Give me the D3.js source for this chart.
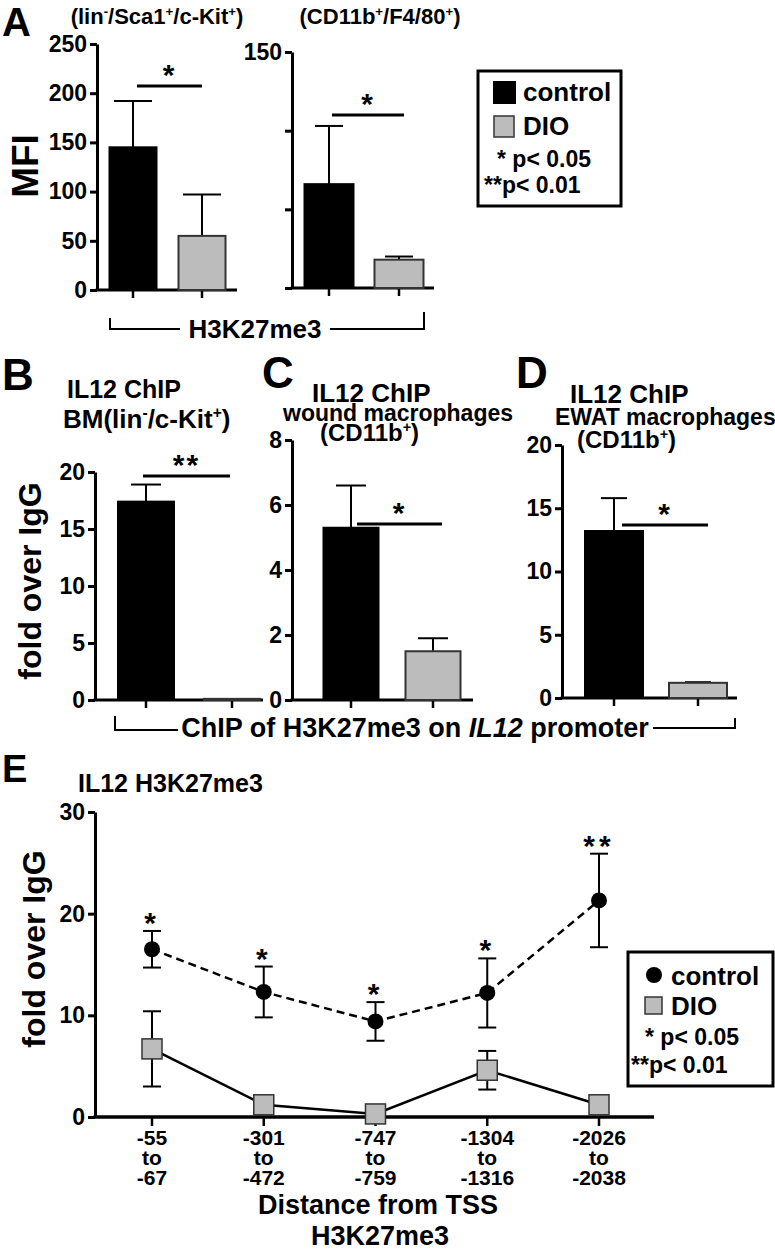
<!DOCTYPE html>
<html>
<head>
<meta charset="utf-8">
<script src="https://cdn.jsdelivr.net/npm/d3@7"></script>
<style>
  html, body { margin: 0; padding: 0; background: #fff; }
  svg { display: block; }
</style>
</head>
<body>
<div id="chart"></div>
<script>
// ---- data ----
const groups = ['control', 'DIO'];

// A: H3K27me3 MFI
const aStemMean = [145, 55];
const aStemSem = [47, 42];
const aStemTicks = [0, 50, 100, 150, 200, 250];
const aMacMean = [66, 18];
const aMacSem = [37, 2];
const aMacTicks = [0, 50, 100, 150];
const aMacLabels = [150];

// B-D: IL12 ChIP fold over IgG
const bMean = [17.4, 0.1];
const bSem = [1.5, 0];
const bTicks = [0, 5, 10, 15, 20];
const cMean = [5.3, 1.5];
const cSem = [1.3, 0.4];
const cTicks = [0, 2, 4, 6, 8];
const dMean = [13.2, 1.2];
const dSem = [2.6, 0.05];
const dTicks = [0, 5, 10, 15, 20];

// E: distance from TSS
const tssRegions = [
  ['-55', 'to', '-67'],
  ['-301', 'to', '-472'],
  ['-747', 'to', '-759'],
  ['-1304', 'to', '-1316'],
  ['-2026', 'to', '-2038']
];
const eControl = [16.5, 12.3, 9.4, 12.2, 21.3];
const eControlSem = [1.8, 2.5, 1.9, 3.4, 4.6];
const eDio = [6.7, 1.2, 0.3, 4.6, 1.2];
const eDioSem = [3.7, 0, 0, 1.9, 0];
const eStars = ['*', '*', '*', '*', '**'];
const eTicks = [0, 10, 20, 30];

const FONT = '"Liberation Sans", Arial, Helvetica, sans-serif';
const GRAY = '#bcbcbc';

const svg = d3.select('#chart').append('svg')
  .attr('width', 775)
  .attr('height', 1251)
  .attr('font-family', FONT)
  .attr('font-weight', 'bold');

svg.append('rect').attr('width', 775).attr('height', 1251).attr('fill', '#fff');

// text with superscript / italic parts: parts = [[text, 'sup'|'it'|'']]
function rich(x, y, parts, size, anchor) {
  const t = svg.append('text')
    .attr('x', x).attr('y', y)
    .attr('font-size', size)
    .attr('text-anchor', anchor || 'start');
  let shifted = 0;
  parts.forEach(([s, kind]) => {
    const ts = t.append('tspan').text(s);
    if (kind === 'sup') {
      ts.attr('font-size', size * 0.6).attr('dy', -size * 0.38 - shifted);
      shifted = -size * 0.38;
    } else {
      if (shifted) ts.attr('dy', -shifted);
      shifted = 0;
      if (kind === 'it') ts.attr('font-style', 'italic');
    }
  });
  return t;
}

function label(x, y, s, size, anchor) {
  return svg.append('text')
    .attr('x', x).attr('y', y)
    .attr('font-size', size)
    .attr('text-anchor', anchor || 'start')
    .text(s);
}

function styleAxis(g, size) {
  g.attr('font-family', FONT).attr('font-size', size).attr('font-weight', 'bold');
  g.select('.domain').attr('stroke', '#000').attr('stroke-width', 3);
  g.selectAll('.tick line').attr('stroke', '#000').attr('stroke-width', 3);
  g.selectAll('.tick text').attr('fill', '#000');
}

function barPanel(p) {
  const y = d3.scaleLinear().domain([0, p.ticks[p.ticks.length - 1]]).range([p.y0, p.y1]);
  const x = d3.scalePoint().domain(groups).range([p.cx0, p.cx1]);
  const labels = p.labels || p.ticks;

  const ya = svg.append('g')
    .attr('transform', `translate(${p.ax},0)`)
    .call(d3.axisLeft(y).tickValues(p.ticks).tickSize(7).tickSizeOuter(0).tickPadding(3)
      .tickFormat(d => labels.includes(d) ? d : ''));
  styleAxis(ya, 23);

  // x axis line + ticks
  svg.append('line')
    .attr('x1', p.ax - 1.5).attr('x2', p.axEnd)
    .attr('y1', y(0)).attr('y2', y(0))
    .attr('stroke', '#000').attr('stroke-width', 3);
  svg.append('g').selectAll('line').data(groups).join('line')
    .attr('x1', d => x(d)).attr('x2', d => x(d))
    .attr('y1', y(0)).attr('y2', y(0) + 8)
    .attr('stroke', '#000').attr('stroke-width', 2.5);

  const rows = groups.map((gname, i) => ({ g: gname, m: p.mean[i], s: p.sem[i] }));

  // error bars (upper only)
  const err = svg.append('g').attr('stroke', '#000').attr('stroke-width', 2);
  err.selectAll('line.v').data(rows.filter(r => r.s > 0)).join('line')
    .attr('x1', d => x(d.g)).attr('x2', d => x(d.g))
    .attr('y1', d => y(d.m)).attr('y2', d => y(d.m + d.s));
  err.selectAll('line.c').data(rows.filter(r => r.s > 0)).join('line')
    .attr('x1', d => x(d.g) - p.cap / 2).attr('x2', d => x(d.g) + p.cap / 2)
    .attr('y1', d => y(d.m + d.s)).attr('y2', d => y(d.m + d.s));

  svg.append('g').selectAll('rect').data(rows).join('rect')
    .attr('x', d => x(d.g) - p.bw / 2)
    .attr('y', d => y(d.m))
    .attr('width', p.bw)
    .attr('height', d => y(0) - y(d.m))
    .attr('fill', d => d.g === 'control' ? '#000' : GRAY)
    .attr('stroke', d => d.g === 'control' ? '#000' : '#333')
    .attr('stroke-width', 2);

  // significance bar
  svg.append('line')
    .attr('x1', p.sig[0]).attr('x2', p.sig[1])
    .attr('y1', p.sig[2]).attr('y2', p.sig[2])
    .attr('stroke', '#000').attr('stroke-width', 3);
  label((p.sig[0] + p.sig[1]) / 2, p.sig[2] - 1, p.star, 30, 'middle').attr('letter-spacing', 2);
}

// ---------- Panel A ----------
label(2, 36, 'A', 40);
rich(157, 24, [['(lin', ''], ['-', 'sup'], ['/Sca1', ''], ['+', 'sup'], ['/c-Kit', ''], ['+', 'sup'], [')', '']], 22, 'middle');
rich(380, 24, [['(CD11b', ''], ['+', 'sup'], ['/F4/80', ''], ['+', 'sup'], [')', '']], 22, 'middle');

barPanel({ mean: aStemMean, sem: aStemSem, ticks: aStemTicks, y0: 290, y1: 44,
  ax: 97, axEnd: 237, cx0: 133, cx1: 202, bw: 47, cap: 38, sig: [137, 202, 86], star: '*' });
barPanel({ mean: aMacMean, sem: aMacSem, ticks: aMacTicks, labels: aMacLabels, y0: 288, y1: 52,
  ax: 292, axEnd: 434, cx0: 329, cx1: 399, bw: 49, cap: 28, sig: [332, 404, 115], star: '*' });

svg.append('text')
  .attr('transform', 'translate(38,166) rotate(-90)')
  .attr('text-anchor', 'middle').attr('font-size', 37).text('MFI');

// bracket H3K27me3
svg.append('path')
  .attr('d', 'M110,318 V329 H180 M330,329 H424 V312')
  .attr('fill', 'none').attr('stroke', '#000').attr('stroke-width', 2);
label(255, 338, 'H3K27me3', 26, 'middle');

// legend A
svg.append('rect').attr('x', 478).attr('y', 71).attr('width', 143).attr('height', 135)
  .attr('fill', '#fff').attr('stroke', '#000').attr('stroke-width', 3);
svg.append('rect').attr('x', 493).attr('y', 81).attr('width', 23).attr('height', 23).attr('fill', '#000');
svg.append('rect').attr('x', 494).attr('y', 116).attr('width', 20).attr('height', 21)
  .attr('fill', GRAY).attr('stroke', '#333').attr('stroke-width', 1.5);
label(523, 101, 'control', 26);
label(523, 135, 'DIO', 26);
label(497, 167, '* p< 0.05', 23);
label(484, 193, '**p< 0.01', 23);

// ---------- Panels B-D ----------
label(2, 390, 'B', 44);
label(262, 388, 'C', 44);
label(516, 388, 'D', 44);

label(67, 398, 'IL12 ChIP', 25);
rich(63, 428, [['BM(lin', ''], ['-', 'sup'], ['/c-Kit', ''], ['+', 'sup'], [')', '']], 26);
label(312, 402, 'IL12 ChIP', 26);
label(283, 421, 'wound macrophages', 23);
rich(320, 441, [['(CD11b', ''], ['+', 'sup'], [')', '']], 24);
label(570, 403, 'IL12 ChIP', 26);
label(555, 425, 'EWAT macrophages', 23);
rich(577, 448, [['(CD11b', ''], ['+', 'sup'], [')', '']], 24);

barPanel({ mean: bMean, sem: bSem, ticks: bTicks, y0: 700, y1: 472,
  ax: 95, axEnd: 263, cx0: 146, cx1: 232, bw: 56, cap: 30, sig: [143, 230, 476], star: '**' });
barPanel({ mean: cMean, sem: cSem, ticks: cTicks, y0: 700, y1: 440,
  ax: 292, axEnd: 473, cx0: 351, cx1: 433, bw: 55, cap: 30, sig: [357, 442, 524], star: '*' });
barPanel({ mean: dMean, sem: dSem, ticks: dTicks, y0: 698, y1: 445,
  ax: 562, axEnd: 737, cx0: 614, cx1: 698, bw: 58, cap: 26, sig: [622, 708, 525], star: '*' });

svg.append('text')
  .attr('transform', 'translate(41,581) rotate(-90)')
  .attr('text-anchor', 'middle').attr('font-size', 32).text('fold over IgG');

// bracket ChIP of H3K27me3 on IL12 promoter
svg.append('path')
  .attr('d', 'M115,716 V730 H178 M653,728 H735 V718')
  .attr('fill', 'none').attr('stroke', '#000').attr('stroke-width', 2);
rich(415, 737, [['ChIP of H3K27me3 on ', ''], ['IL12', 'it'], [' promoter', '']], 27, 'middle');

// ---------- Panel E ----------
label(2, 782, 'E', 38);
label(78, 792, 'IL12 H3K27me3', 25);

const ex = d3.scalePoint().domain(d3.range(tssRegions.length)).range([152, 599]);
const ey = d3.scaleLinear().domain([0, 30]).range([1117, 812]);

const eAxis = svg.append('g')
  .attr('transform', 'translate(95,0)')
  .call(d3.axisLeft(ey).tickValues(eTicks).tickSize(7).tickSizeOuter(0).tickPadding(3));
styleAxis(eAxis, 23);

svg.append('line')
  .attr('x1', 93.5).attr('x2', 654).attr('y1', ey(0)).attr('y2', ey(0))
  .attr('stroke', '#000').attr('stroke-width', 3.5);
svg.append('g').selectAll('line').data(tssRegions).join('line')
  .attr('x1', (d, i) => ex(i)).attr('x2', (d, i) => ex(i))
  .attr('y1', ey(0)).attr('y2', ey(0) + 9)
  .attr('stroke', '#000').attr('stroke-width', 2.5);

const tickText = svg.append('g').selectAll('text').data(tssRegions).join('text')
  .attr('x', (d, i) => ex(i))
  .attr('y', 1145)
  .attr('text-anchor', 'middle')
  .attr('font-size', 21);
tickText.selectAll('tspan').data(d => d).join('tspan')
  .attr('x', function () { return this.parentNode.getAttribute('x'); })
  .attr('dy', (d, j) => j === 0 ? 0 : 20)
  .text(d => d);

label(378, 1214, 'Distance from TSS', 27, 'middle');
label(380, 1245, 'H3K27me3', 27, 'middle');

svg.append('text')
  .attr('transform', 'translate(45,949) rotate(-90)')
  .attr('text-anchor', 'middle').attr('font-size', 32).text('fold over IgG');

const ctrlRows = eControl.map((v, i) => ({ i, v, s: eControlSem[i], star: eStars[i] }));
const dioRows = eDio.map((v, i) => ({ i, v, s: eDioSem[i] }));

function errorBars(rows, cap) {
  const g = svg.append('g').attr('stroke', '#000').attr('stroke-width', 2);
  const r = rows.filter(d => d.s > 0);
  g.selectAll('line.v').data(r).join('line')
    .attr('x1', d => ex(d.i)).attr('x2', d => ex(d.i))
    .attr('y1', d => ey(d.v - d.s)).attr('y2', d => ey(d.v + d.s));
  g.selectAll('line.t').data(r).join('line')
    .attr('x1', d => ex(d.i) - cap / 2).attr('x2', d => ex(d.i) + cap / 2)
    .attr('y1', d => ey(d.v + d.s)).attr('y2', d => ey(d.v + d.s));
  g.selectAll('line.b').data(r).join('line')
    .attr('x1', d => ex(d.i) - cap / 2).attr('x2', d => ex(d.i) + cap / 2)
    .attr('y1', d => ey(d.v - d.s)).attr('y2', d => ey(d.v - d.s));
}

errorBars(dioRows, 18);
errorBars(ctrlRows, 18);

const line = d3.line().x(d => ex(d.i)).y(d => ey(d.v));
svg.append('path').datum(dioRows).attr('d', line)
  .attr('fill', 'none').attr('stroke', '#000').attr('stroke-width', 2.5);
svg.append('path').datum(ctrlRows).attr('d', line)
  .attr('fill', 'none').attr('stroke', '#000').attr('stroke-width', 2.5)
  .attr('stroke-dasharray', '8,5');

svg.append('g').selectAll('rect').data(dioRows).join('rect')
  .attr('x', d => ex(d.i) - 10).attr('y', d => ey(d.v) - 10)
  .attr('width', 20).attr('height', 20)
  .attr('fill', GRAY).attr('stroke', '#333').attr('stroke-width', 1.5);
svg.append('g').selectAll('circle').data(ctrlRows).join('circle')
  .attr('cx', d => ex(d.i)).attr('cy', d => ey(d.v)).attr('r', 8).attr('fill', '#000');

svg.append('g').selectAll('text').data(ctrlRows).join('text')
  .attr('x', d => ex(d.i)).attr('y', d => ey(d.v + d.s) + 2)
  .attr('text-anchor', 'middle').attr('font-size', 30)
  .attr('letter-spacing', 4)
  .text(d => d.star);

// legend E
svg.append('rect').attr('x', 628).attr('y', 952).attr('width', 145).attr('height', 134)
  .attr('fill', '#fff').attr('stroke', '#000').attr('stroke-width', 3);
svg.append('circle').attr('cx', 654).attr('cy', 975).attr('r', 8).attr('fill', '#000');
svg.append('rect').attr('x', 645).attr('y', 997).attr('width', 17).attr('height', 17)
  .attr('fill', GRAY).attr('stroke', '#333').attr('stroke-width', 1.5);
label(671, 985, 'control', 26);
label(671, 1015, 'DIO', 26);
label(645, 1045, '* p< 0.05', 23);
label(631, 1073, '**p< 0.01', 23);
</script>
</body>
</html>
